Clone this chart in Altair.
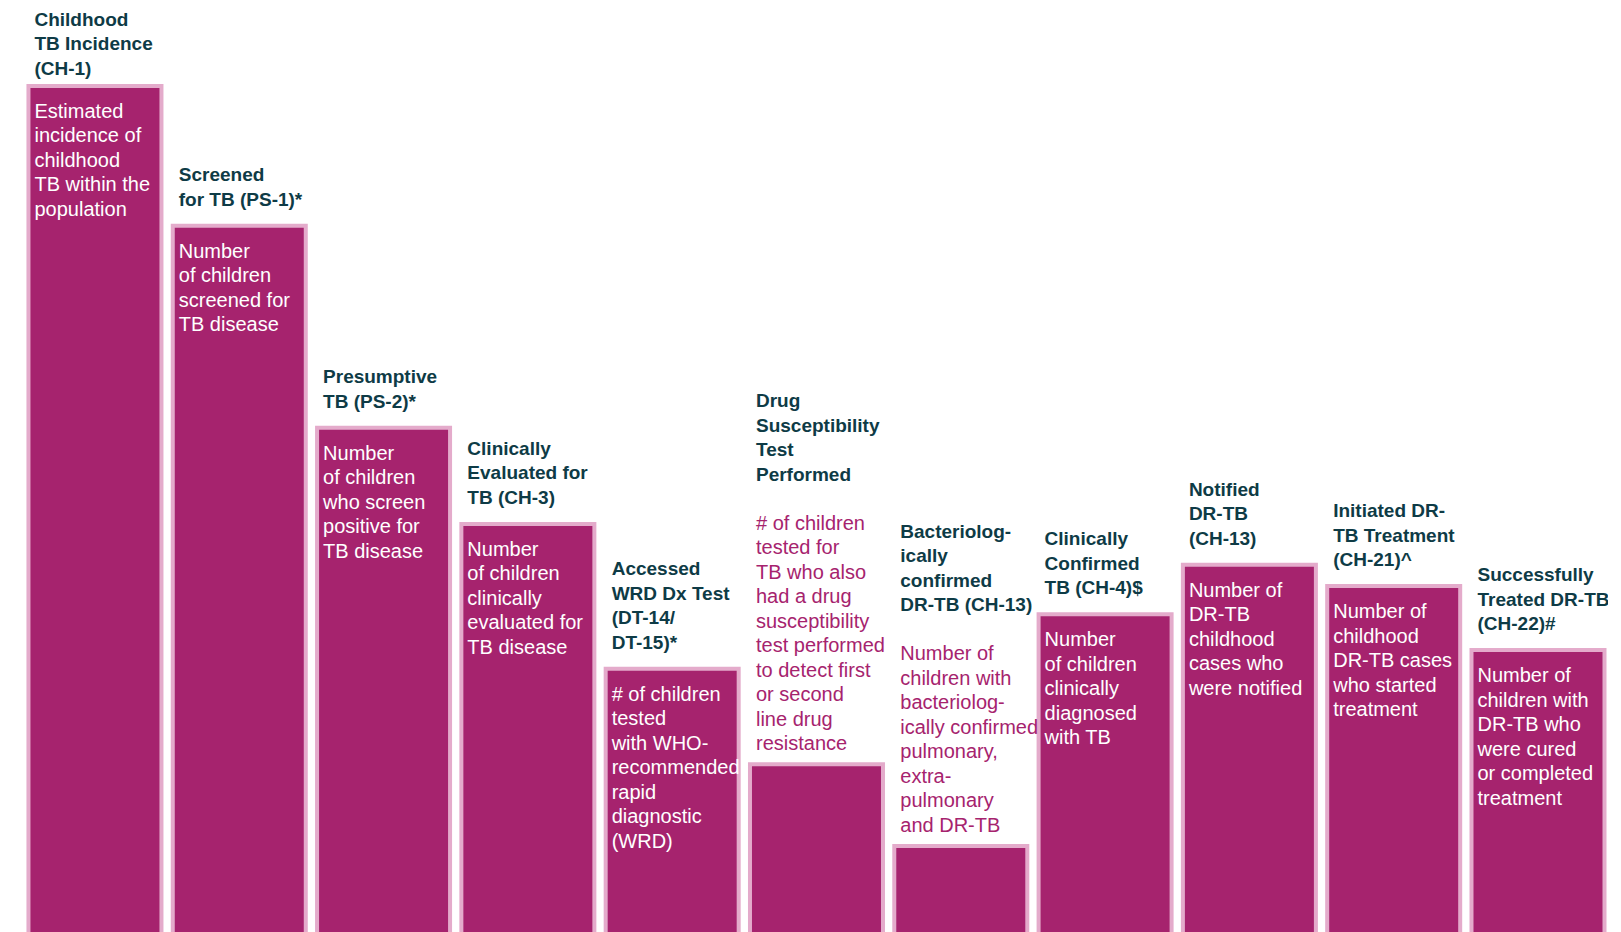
import altair as alt
import pandas as pd

# ---- data -------------------------------------------------------------
categories = ["CH-1", "PS-1", "PS-2", "CH-3", "DT-14/15", "DST",
              "CH-13 bact", "CH-4", "CH-13 notif", "CH-21", "CH-22"]

# relative size of each cascade step (incidence = 100)
values = [100, 83.6, 59.9, 48.6, 31.6, 20.4, 10.8, 38.0, 43.8, 41.3, 33.8]

titles = [
    ["Childhood", "TB Incidence", "(CH-1)"],
    ["Screened", "for TB (PS-1)*"],
    ["Presumptive", "TB (PS-2)*"],
    ["Clinically", "Evaluated for", "TB (CH-3)"],
    ["Accessed", "WRD Dx Test", "(DT-14/", "DT-15)*"],
    ["Drug", "Susceptibility", "Test", "Performed"],
    ["Bacteriolog-", "ically", "confirmed", "DR-TB (CH-13)"],
    ["Clinically", "Confirmed", "TB (CH-4)$"],
    ["Notified", "DR-TB", "(CH-13)"],
    ["Initiated DR-", "TB Treatment", "(CH-21)^"],
    ["Successfully", "Treated DR-TB", "(CH-22)#"],
]

descriptions = [
    ["Estimated", "incidence of", "childhood", "TB within the", "population"],
    ["Number", "of children", "screened for", "TB disease"],
    ["Number", "of children", "who screen", "positive for", "TB disease"],
    ["Number", "of children", "clinically", "evaluated for", "TB disease"],
    ["# of children", "tested", "with WHO-", "recommended", "rapid",
     "diagnostic", "(WRD)"],
    ["# of children", "tested for", "TB who also", "had a drug",
     "susceptibility", "test performed", "to detect first", "or second",
     "line drug", "resistance"],
    ["Number of", "children with", "bacteriolog-", "ically confirmed",
     "pulmonary,", "extra-", "pulmonary", "and DR-TB"],
    ["Number", "of children", "clinically", "diagnosed", "with TB"],
    ["Number of", "DR-TB", "childhood", "cases who", "were notified"],
    ["Number of", "childhood", "DR-TB cases", "who started", "treatment"],
    ["Number of", "children with", "DR-TB who", "were cured",
     "or completed", "treatment"],
]

# whether the description fits inside the bar
desc_inside = [True, True, True, True, True, False, False,
               True, True, True, True]

df = pd.DataFrame({
    "cat": categories,
    "value": values,
    "title": titles,
    "desc": descriptions,
    "inside": desc_inside,
})

# ---- layout / style --------------------------------------------------------
FILL = "#a6236e"
EDGE = "#e4abcb"
DARK = "#0e3b46"
FONT = "Liberation Sans"

W, H = 1600, 930
YMAX = 109.15
K = YMAX / H          # data units per pixel
LH = 24.5             # line height
TOP_MIN = 17.5        # first title baseline never closer than this to the top

xscale = alt.Scale(paddingInner=0.0783, paddingOuter=0.083, align=0.854)
yscale = alt.Scale(domain=[0, YMAX], nice=False, zero=True)

base = alt.Chart(df).transform_calculate(
    nt="length(datum.title)",
    nd="length(datum.desc)",
).transform_calculate(
    # baseline of the last title line, in px above the bar top
    off_last=f"datum.inside ? 20 : 14 + (datum.nd + 1) * {LH}",
).transform_calculate(
    title_y=(f"min(datum.value + {K} * (datum.off_last + (datum.nt - 1) * {LH}),"
             f" {YMAX} - {K} * {TOP_MIN})"),
    desc_out_y=f"datum.value + {K} * (14 + (datum.nd - 1) * {LH})",
)

bars = base.mark_bar(color=FILL, stroke=EDGE, strokeWidth=4).encode(
    x=alt.X("cat:N", sort=categories, axis=None, scale=xscale),
    y=alt.Y("value:Q", axis=None, scale=yscale),
)

xl = alt.X("cat:N", sort=categories, axis=None, bandPosition=0)

desc_in = base.transform_filter("datum.inside").mark_text(
    align="left", baseline="top", dx=6, dy=16, font=FONT, fontSize=20,
    lineHeight=LH, color="white",
).encode(x=xl, y=alt.Y("value:Q", axis=None, scale=yscale), text="desc")

desc_out = base.transform_filter("!datum.inside").mark_text(
    align="left", baseline="alphabetic", dx=6, font=FONT, fontSize=20,
    lineHeight=LH, color=FILL,
).encode(x=xl, y=alt.Y("desc_out_y:Q", axis=None, scale=yscale), text="desc")

title = base.mark_text(
    align="left", baseline="alphabetic", dx=6, font=FONT, fontSize=19,
    fontWeight="bold", lineHeight=LH, color=DARK,
).encode(x=xl, y=alt.Y("title_y:Q", axis=None, scale=yscale), text="title")

chart = alt.layer(bars, desc_in, desc_out, title).properties(
    width=W, height=H, padding=0,
    autosize=alt.AutoSizeParams(type="none"),
).configure_view(stroke=None)

chart.save("out.html", embed_options={"renderer": "svg", "actions": False})
